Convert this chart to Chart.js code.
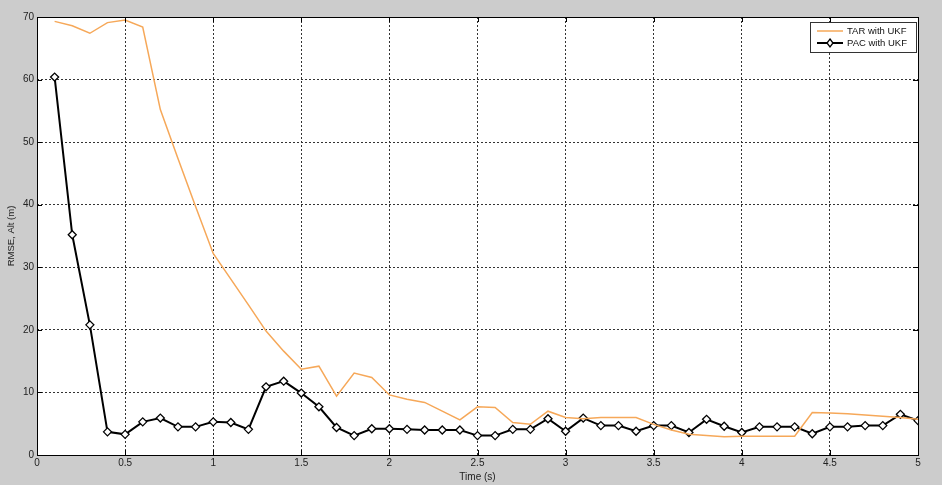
<!DOCTYPE html>
<html>
<head>
<meta charset="utf-8">
<script src="https://cdn.jsdelivr.net/npm/chart.js@4.4.1/dist/chart.umd.min.js"></script>
<style>
  html, body { margin: 0; padding: 0; background: #cccccc; }
  #wrap { width: 942px; height: 485px; }
</style>
</head>
<body>
<div id="wrap"><canvas id="rmseChart" width="942" height="485"></canvas></div>
<script>
// time stamps (s)
const times = [0.1, 0.2, 0.3, 0.4, 0.5, 0.6, 0.7, 0.8, 0.9, 1.0,
               1.1, 1.2, 1.3, 1.4, 1.5, 1.6, 1.7, 1.8, 1.9, 2.0,
               2.1, 2.2, 2.3, 2.4, 2.5, 2.6, 2.7, 2.8, 2.9, 3.0,
               3.1, 3.2, 3.3, 3.4, 3.5, 3.6, 3.7, 3.8, 3.9, 4.0,
               4.1, 4.2, 4.3, 4.4, 4.5, 4.6, 4.7, 4.8, 4.9, 5.0];

// RMSE altitude (m)
const tarUkf = [69.3, 68.6, 67.4, 69.1, 69.5, 68.4, 55.2, 47.4, 39.7, 32.2,
                28.1, 24.0, 19.8, 16.6, 13.7, 14.2, 9.4, 13.1, 12.4, 9.6,
                8.9, 8.4, 7.0, 5.6, 7.7, 7.6, 5.2, 4.9, 7.0, 6.0,
                5.8, 6.0, 6.0, 6.0, 4.9, 4.0, 3.3, 3.1, 2.9, 3.0,
                3.0, 3.0, 3.0, 6.8, 6.7, 6.6, 6.4, 6.2, 6.0, 5.7];

const pacUkf = [60.4, 35.2, 20.8, 3.7, 3.3, 5.3, 5.9, 4.5, 4.5, 5.3,
                5.2, 4.1, 10.9, 11.8, 9.9, 7.7, 4.4, 3.1, 4.2, 4.2,
                4.1, 4.0, 4.0, 4.0, 3.1, 3.1, 4.1, 4.1, 5.8, 3.8,
                5.9, 4.7, 4.7, 3.8, 4.7, 4.7, 3.6, 5.7, 4.6, 3.6,
                4.5, 4.5, 4.5, 3.4, 4.5, 4.5, 4.7, 4.7, 6.5, 5.5];

const seriesNames = ['TAR with UKF', 'PAC with UKF'];
const xTicks = [0, 0.5, 1, 1.5, 2, 2.5, 3, 3.5, 4, 4.5, 5];
const yTicks = [0, 10, 20, 30, 40, 50, 60, 70];

const FONT = 'Liberation Sans, Arial, sans-serif';
const ORANGE = '#f6a859';

// gray figure background, white axes, black box, inner ticks, legend
const matlabLook = {
    id: 'matlabLook',
    beforeDraw(chart) {
        const { ctx, chartArea: a } = chart;
        ctx.save();
        ctx.fillStyle = '#cccccc';
        ctx.fillRect(0, 0, chart.width, chart.height);
        ctx.fillStyle = '#ffffff';
        ctx.fillRect(a.left, a.top, a.right - a.left, a.bottom - a.top);
        ctx.restore();
    },
    afterDatasetsDraw(chart) {
        const { ctx, chartArea: a, scales } = chart;
        ctx.save();
        ctx.strokeStyle = '#000';
        ctx.lineWidth = 1;
        ctx.beginPath();
        xTicks.forEach(v => {
            const x = Math.round(scales.x.getPixelForValue(v)) + 0.5;
            ctx.moveTo(x, a.bottom); ctx.lineTo(x, a.bottom - 5);
            ctx.moveTo(x, a.top); ctx.lineTo(x, a.top + 5);
        });
        yTicks.forEach(v => {
            const y = Math.round(scales.y.getPixelForValue(v)) + 0.5;
            ctx.moveTo(a.left, y); ctx.lineTo(a.left + 5, y);
            ctx.moveTo(a.right, y); ctx.lineTo(a.right - 5, y);
        });
        ctx.stroke();
        ctx.strokeRect(Math.round(a.left) + 0.5, Math.round(a.top) + 0.5,
                       Math.round(a.right - a.left), Math.round(a.bottom - a.top));

        // legend box
        const lx = 810.5, ly = 22.5, lw = 106, lh = 30;
        ctx.fillStyle = '#fff';
        ctx.fillRect(lx, ly, lw, lh);
        ctx.strokeStyle = '#333';
        ctx.strokeRect(lx, ly, lw, lh);
        ctx.font = '9.5px ' + FONT;
        ctx.textBaseline = 'middle';
        ctx.fillStyle = '#111';
        // TAR
        ctx.strokeStyle = ORANGE; ctx.lineWidth = 1.5;
        ctx.beginPath(); ctx.moveTo(817, 31); ctx.lineTo(843, 31); ctx.stroke();
        ctx.fillText(seriesNames[0], 847, 31);
        // PAC
        ctx.strokeStyle = '#000'; ctx.lineWidth = 2;
        ctx.beginPath(); ctx.moveTo(817, 43); ctx.lineTo(843, 43); ctx.stroke();
        ctx.lineWidth = 1.3; ctx.fillStyle = '#fff';
        ctx.beginPath();
        ctx.moveTo(830, 39); ctx.lineTo(833, 43); ctx.lineTo(830, 47); ctx.lineTo(827, 43); ctx.closePath();
        ctx.fill(); ctx.stroke();
        ctx.fillStyle = '#111';
        ctx.fillText(seriesNames[1], 847, 43);
        ctx.restore();
    }
};

new Chart(document.getElementById('rmseChart'), {
    type: 'line',
    data: {
        datasets: [
            {
                label: seriesNames[0],
                data: times.map((t, i) => ({ x: t, y: tarUkf[i] })),
                borderColor: ORANGE,
                borderWidth: 1.5,
                pointRadius: 0,
                tension: 0,
                fill: false
            },
            {
                label: seriesNames[1],
                data: times.map((t, i) => ({ x: t, y: pacUkf[i] })),
                borderColor: '#000',
                borderWidth: 2,
                pointStyle: 'rectRot',
                pointRadius: 4,
                pointBackgroundColor: '#fff',
                pointBorderColor: '#000',
                pointBorderWidth: 1.3,
                tension: 0,
                fill: false
            }
        ]
    },
    options: {
        responsive: false,
        animation: false,
        layout: { padding: { top: 17, right: 24, left: 0, bottom: 0 } },
        scales: {
            x: {
                type: 'linear',
                min: 0,
                max: 5,
                afterBuildTicks: scale => { scale.ticks = xTicks.map(v => ({ value: v })); },
                afterFit: scale => { scale.height = 30; },
                ticks: {
                    padding: 2,
                    color: '#222',
                    font: { family: FONT, size: 10 },
                    maxRotation: 0,
                    callback: v => String(v)
                },
                grid: {
                    color: '#333',
                    drawTicks: false,
                    tickBorderDash: [2, 2]
                },
                border: { display: false, dash: [2, 2] },
                title: {
                    display: true,
                    text: 'Time (s)',
                    color: '#222',
                    font: { family: FONT, size: 10 },
                    padding: { top: 0, bottom: 2 }
                }
            },
            y: {
                min: 0,
                max: 70,
                afterBuildTicks: scale => { scale.ticks = yTicks.map(v => ({ value: v })); },
                afterFit: scale => { scale.width = 37; },
                ticks: {
                    padding: 3,
                    color: '#222',
                    font: { family: FONT, size: 10 },
                    callback: v => String(v)
                },
                grid: {
                    color: '#333',
                    drawTicks: false
                },
                border: { display: false, dash: [2, 2] },
                title: {
                    display: true,
                    text: 'RMSE, Alt (m)',
                    color: '#222',
                    font: { family: FONT, size: 9.5 },
                    padding: { top: 6, bottom: 0 }
                }
            }
        },
        plugins: {
            legend: { display: false },
            tooltip: { enabled: false }
        }
    },
    plugins: [matlabLook]
});
</script>
</body>
</html>
